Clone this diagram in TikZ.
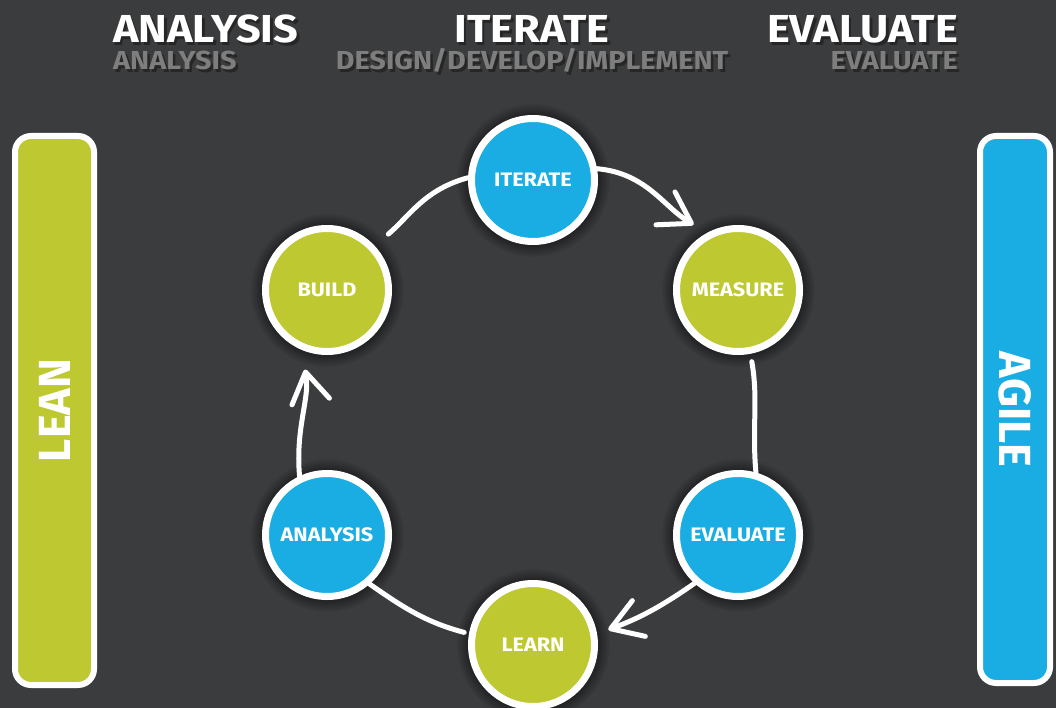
\documentclass[tikz,border=0pt]{standalone}
\usepackage{fontspec}
\setmainfont{Fira Sans}
\newfontfamily\widefont[FakeStretch=1.11]{Fira Sans}
\usepackage{xcolor}
\usetikzlibrary{arrows.meta,positioning,shadows}
\definecolor{bgdark}{HTML}{3B3C3E}
\definecolor{leangreen}{HTML}{BEC830}
\definecolor{agileblue}{HTML}{19ADE3}
\definecolor{subgray}{HTML}{7E7E7E}

% text with a hard black shadow down to the right
\newcommand{\dropshade}[1]{%
  \makebox[0pt][l]{\kern2.5pt\raisebox{-2.5pt}{\textcolor{black!85}{#1}}}#1}

\begin{document}
\begin{tikzpicture}[
  x=1pt, y=1pt,
  every node/.style={align=center},
  headbig/.style={font=\widefont\bfseries\fontsize{39}{39}\selectfont,
                  text=white, inner sep=0pt, text depth=0pt},
  headsub/.style={font=\widefont\bfseries\fontsize{26}{26}\selectfont,
                  text=subgray, inner sep=0pt, text depth=0pt},
  sidebar/.style={rectangle, rounded corners=16pt, draw=white, line width=6pt,
                  text=white, inner sep=0pt,
                  font=\bfseries\fontsize{45}{45}\selectfont},
  stage/.style={circle, draw=white, line width=7pt, minimum size=123pt,
                inner sep=0pt, text=white,
                font=\widefont\bfseries\fontsize{19.5}{19.5}\selectfont,
                circular glow={fill=black, opacity=0.4}},
  bluestage/.style={stage, fill=agileblue},
  greenstage/.style={stage, fill=leangreen},
  flow/.style={draw=white, line width=5pt, line cap=round},
  flowhead/.style={flow, -{Straight Barb[round, length=30pt, width=38pt]}}
]

% ---- Background --------------------------------------------------------------
\useasboundingbox (0,0) rectangle (1056,-708);
\fill[bgdark] (0,0) rectangle (1056,-708);

% ---- Headings ------------------------------------------------------------------
\node[headbig, anchor=base west] (hanalysis) at (113,-43) {\dropshade{ANALYSIS}};
\node[headsub, anchor=base west] (sanalysis) at (113,-70) {\dropshade{ANALYSIS}};

\node[headbig, anchor=base] (hiterate) at (532,-43) {\dropshade{ITERATE}};
\node[headsub, anchor=base] (siterate) at (532,-70) {\dropshade{DESIGN/DEVELOP/IMPLEMENT}};

\node[headbig, anchor=base east] (hevaluate) at (958,-43) {\dropshade{EVALUATE}};
\node[headsub, anchor=base east] (sevaluate) at (958,-70) {\dropshade{EVALUATE}};

% ---- Side bars -----------------------------------------------------------------
\node[sidebar, fill=leangreen, minimum width=79pt, minimum height=549pt]
  (lean) at (54.5,-410.5) {\rotatebox{90}{LEAN}};
\node[sidebar, fill=agileblue, minimum width=70pt, minimum height=547pt]
  (agile) at (1015,-409.5) {\rotatebox{-90}{AGILE}};

% ---- The cycle -----------------------------------------------------------------
\node[bluestage]  (iterate)  at (533,-180) {ITERATE};
\node[greenstage] (measure)  at (738,-290) {MEASURE};
\node[bluestage]  (evaluate) at (738,-535) {EVALUATE};
\node[greenstage] (learn)    at (533,-645) {LEARN};
\node[bluestage]  (analysis) at (327,-535) {ANALYSIS};
\node[greenstage] (build)    at (327,-290) {BUILD};

% ---- Strokes between the stages ----------------------------------------------------
\draw[flow, shorten <=18pt] (build.43) to[out=40, in=195] (iterate.178);
\draw[flowhead, shorten >=16pt] (iterate.10) to[out=-5, in=150] (measure.118);
\draw[flow, shorten <=8pt] (measure.-79) to[out=-80, in=95] (evaluate.74);
\draw[flowhead, shorten >=12pt] (evaluate.-132) to[out=-145, in=20] (learn.10);
\draw[flow, shorten <=5pt] (learn.170) to[out=165, in=-35] (analysis.-49);
\draw[flowhead, shorten >=20pt] (analysis.115) to[out=95, in=-80] (build.-113);

\end{tikzpicture}
\end{document}
